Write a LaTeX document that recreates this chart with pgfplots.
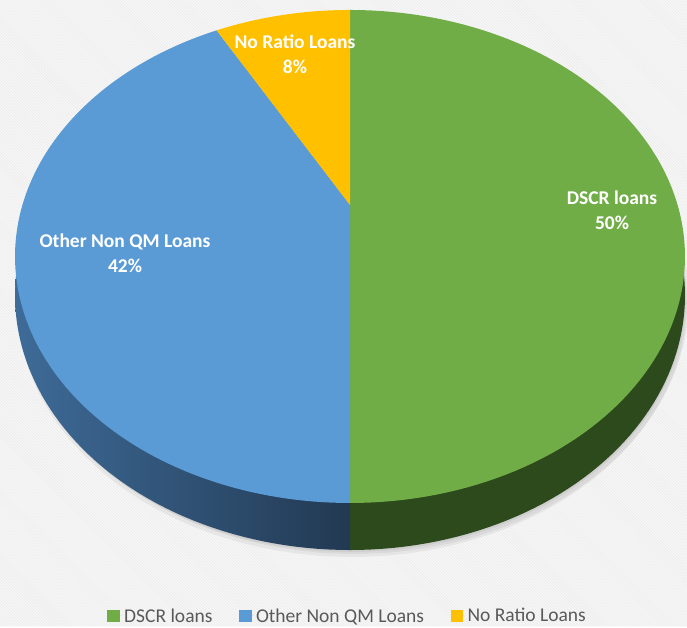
\documentclass[border=0pt]{standalone}
\usepackage{pgfplots}
\pgfplotsset{compat=1.18}
\usepackage{pgfplotstable}
\usepackage{fontspec}
\setmainfont{Carlito}
\usetikzlibrary{patterns}

\definecolor{cGreen}{RGB}{112,173,71}
\definecolor{cBlue}{RGB}{91,155,213}
\definecolor{cYellow}{RGB}{255,192,0}
\definecolor{sGreen}{RGB}{45,74,29}
\definecolor{sBlueL}{RGB}{62,107,152}
\definecolor{sBlueD}{RGB}{34,57,82}
\definecolor{legText}{RGB}{89,89,89}
\definecolor{bgGray}{RGB}{246,246,246}
\definecolor{bgLine}{RGB}{234,234,234}

\pgfplotstableread{
label value
DSCR 50
Other 42
NoRatio 8
}\piedata
\pgfplotstablegetelem{0}{value}\of\piedata \let\vA\pgfplotsretval
\pgfplotstablegetelem{1}{value}\of\piedata \let\vB\pgfplotsretval
\pgfplotstablegetelem{2}{value}\of\piedata \let\vC\pgfplotsretval
\pgfmathsetmacro\aA{0}%
\pgfmathsetmacro\aB{\vA*3.6}%
\pgfmathsetmacro\aC{(\vA+\vB)*3.6}%
\pgfmathsetmacro\aD{(\vA+\vB+\vC)*3.6}%

\begin{document}%
\begin{tikzpicture}[
  declare function={
    px(\t)=350+327.6*sin(\t)/(1+0.2089*cos(\t));
    py(\t)=(323.7*cos(\t)+421)/(1+0.2089*cos(\t));
    pyl(\t)=(323.7*cos(\t)+421-37.2)/(1+0.2089*cos(\t));
  }]
\begin{axis}[
  x=1bp, y=1bp, xmin=0, xmax=687, ymin=0, ymax=626,
  hide axis,
  legend columns=3,
  legend image code/.code={\fill[#1,draw=none] (0bp,-6.3bp) rectangle (12.5bp,6.3bp);
    \path (0bp,0bp) -- (14.5bp,0bp);},
  legend style={at={(axis cs:104,10)}, anchor=west, draw=none, fill=none,
    font=\fontsize{19.5bp}{22bp}\selectfont, text=legText,
    nodes={inner xsep=2.5bp, inner ysep=1.5bp},
    /tikz/every even column/.append style={column sep=24bp}},
]
\fill[bgGray] (axis cs:0,0) rectangle (axis cs:687,626);
\fill[pattern=north west lines, pattern color=bgLine] (axis cs:0,0) rectangle (axis cs:687,626);
% soft shadow
\addplot[forget plot, fill=black, fill opacity=0.05, draw=none, domain=0:360, samples=120]
  ({px(x)+4}, {pyl(x)-4}) -- cycle;
\addplot[forget plot, fill=black, fill opacity=0.05, draw=none, domain=0:360, samples=120]
  ({px(x)+2}, {pyl(x)-7}) -- cycle;
\addplot[forget plot, fill=black, fill opacity=0.05, draw=none, domain=0:360, samples=120]
  ({px(x)+1}, {pyl(x)-2}) -- cycle;
% side walls
\addplot[forget plot, fill=sGreen, draw=none, domain=60:\aB, samples=80]
  ({px(x)}, {pyl(x)}) -- (axis cs:350,123) -- (axis cs:350,421) -- (axis cs:606.9,527.7) -- cycle;
\addplot[forget plot, left color=sBlueL, right color=sBlueD, draw=none, domain=\aB:300, samples=80]
  ({px(x)}, {pyl(x)}) -- (axis cs:93.1,527.7) -- (axis cs:350,421) -- (axis cs:350,123) -- cycle;
% top faces
\addplot[fill=cGreen, draw=none, domain=\aA:\aB, samples=120]
  ({px(x)}, {py(x)}) -- (axis cs:350,421) -- cycle;
\addplot[fill=cBlue, draw=none, domain=\aB:\aC, samples=120]
  ({px(x)}, {py(x)}) -- (axis cs:350,421) -- cycle;
\addplot[fill=cYellow, draw=none, domain=\aC:\aD, samples=40]
  ({px(x)}, {py(x)}) -- (axis cs:350,421) -- cycle;
\legend{DSCR loans, Other Non QM Loans, No Ratio Loans}
% labels
\node[text=white, font=\bfseries\fontsize{19.5bp}{25bp}\selectfont, align=center]
  at (axis cs:612,416) {DSCR loans\\\vA\%};
\node[text=white, font=\bfseries\fontsize{19.5bp}{25bp}\selectfont, align=center]
  at (axis cs:125,373) {Other Non QM Loans\\\vB\%};
\node[text=white, font=\bfseries\fontsize{19.5bp}{25bp}\selectfont, align=center]
  at (axis cs:295,572) {No Ratio Loans\\\vC\%};
\end{axis}
\end{tikzpicture}%
\end{document}
